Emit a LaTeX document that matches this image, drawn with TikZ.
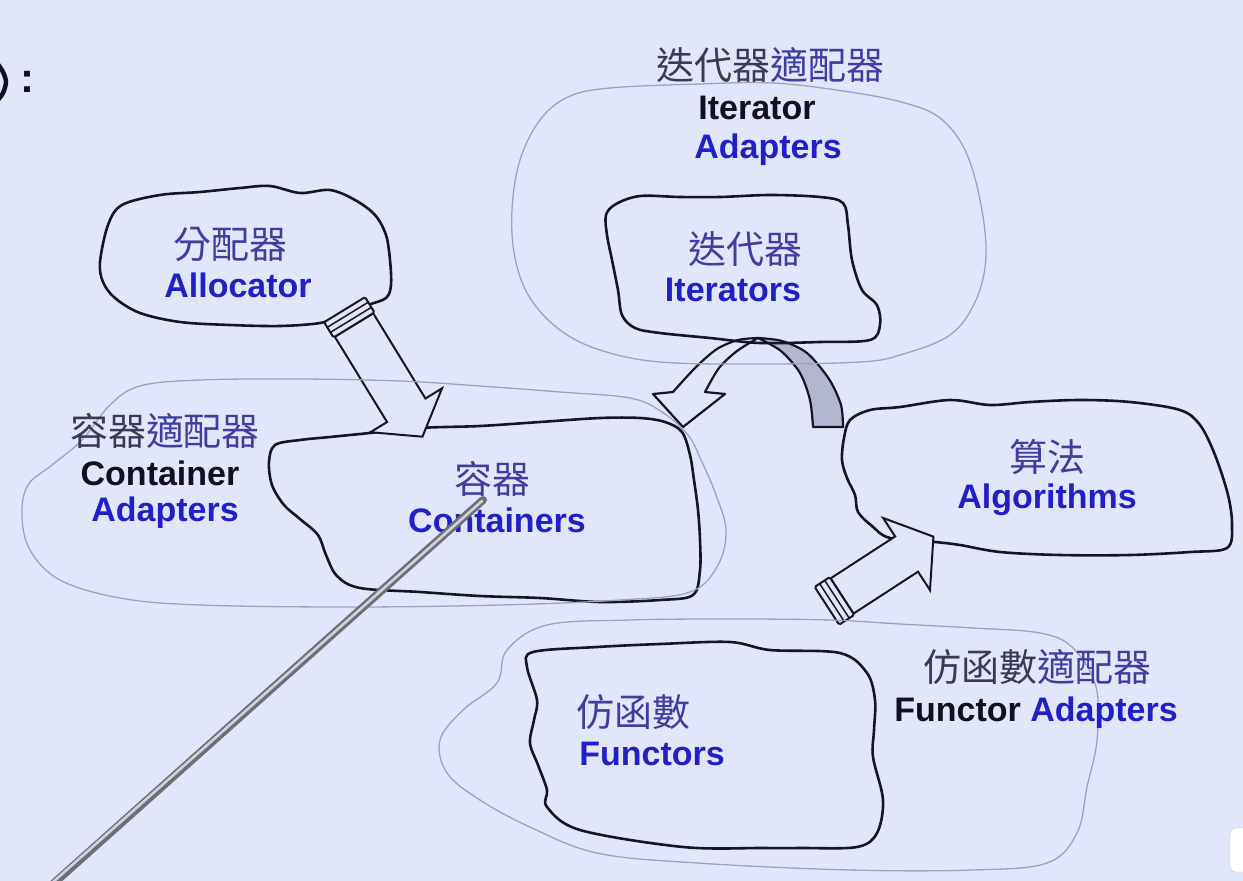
\documentclass[tikz,border=0pt]{standalone}
\usepackage{fontspec}
\setmainfont{Liberation Sans}
\newfontfamily\cjk{Noto Sans CJK TC}
\definecolor{bg}{RGB}{225,230,250}
\definecolor{ink}{RGB}{22,22,34}
\definecolor{haze}{RGB}{155,163,196}
\definecolor{enblue}{RGB}{32,32,200}
\definecolor{enblack}{RGB}{16,16,30}
\definecolor{zhblue}{RGB}{62,62,160}
\definecolor{zhdark}{RGB}{58,58,82}
\definecolor{shadeband}{RGB}{178,182,206}
\definecolor{roddark}{RGB}{110,110,120}
\definecolor{rodlight}{RGB}{210,210,220}
\newcommand\stripedarrow[4]{%
  \draw[blockarrow] (0,-#2/2) -- (#1,-#2/2) -- (#1,-#3) -- ({#1+#4},0) -- (#1,#3) -- (#1,#2/2) -- (0,#2/2) -- cycle;
  \draw[blockarrow,rounded corners=1.5] (-18,-#2/2-1.5) rectangle (0,#2/2+1.5);
  \draw[ink,line width=1.5] (-6,-#2/2-1.5) -- (-6,#2/2+1.5) (-12,-#2/2-1.5) -- (-12,#2/2+1.5);
}
\tikzset{
  blob/.style={draw=ink,line width=2.6,line join=round},
  hazeline/.style={draw=haze,line width=1.3,line join=round},
  blockarrow/.style={draw=ink,fill=bg,line width=2,line join=miter},
  en/.style={font=\bfseries\fontsize{34}{38}\selectfont,text=enblue,inner sep=0pt,anchor=base},
  enk/.style={en,text=enblack},
  zh/.style={font=\cjk\fontsize{38}{42}\selectfont,text=zhdark,inner sep=0pt},
  zhb/.style={zh,text=zhblue},
}
\begin{document}
\begin{tikzpicture}[x=1pt,y=-1pt]
\useasboundingbox (0,0) rectangle (1243,881);
\fill[bg] (0,0) rectangle (1243,881);

% title remnant
\draw[enblack,line width=4.5] plot[smooth] coordinates {(-3,63) (3,72) (6,82) (3,93) (-3,101)};
\node[font=\bfseries\fontsize{42}{44}\selectfont,text=enblack,inner sep=0pt] (colon) at (27,82) {:};

% Containers blob
\draw[blob] plot[smooth cycle,tension=0.55] coordinates {
 (275,445) (300,440) (330,437) (360,434) (420,428) (480,426) (540,422) (600,418) (640,418) (665,422) (682,432)
 (690,455) (694,480) (698,510) (700,540) (700,570) (693,595) (660,600) (600,602) (540,598) (480,596) (420,592)
 (360,588) (337,576) (326,555) (318,535) (300,519) (284,505) (272,485) (269,462)};

% Allocator blob
\draw[blob] plot[smooth cycle,tension=0.55] coordinates {
 (100,262) (108,225) (122,205) (160,195) (200,192) (240,188) (270,186) (300,193) (330,190) (355,200) (375,215)
 (386,235) (390,260) (391,285) (386,298) (368,305) (340,316) (320,323) (280,326) (230,325) (180,322) (140,313)
 (115,298) (103,282)};

% Algorithms blob
\draw[blob] plot[smooth cycle,tension=0.55] coordinates {
 (850,420) (870,410) (900,407) (950,400) (990,405) (1030,402) (1080,400) (1130,402) (1180,410) (1200,425)
 (1215,455) (1228,495) (1232,525) (1227,548) (1190,552) (1130,555) (1060,555) (1000,552) (960,545) (935,542)
 (890,538) (872,526) (858,512) (855,495) (847,478) (842,460) (844,438)};

% Functors blob
\draw[blob] plot[smooth cycle,tension=0.55] coordinates {
 (533,652) (597,647) (660,644) (730,642) (770,650) (840,653) (867,673) (875,700) (874,730) (873,757) (883,800)
 (877,833) (857,847) (800,848) (763,848) (683,847) (580,830) (547,807) (547,790) (538,765) (530,743) (534,720)
 (537,700) (527,667)};

% block arrows
\begin{scope}[shift={(354,325)},rotate=-58.5]
  \stripedarrow{100}{45}{42}{31}
\end{scope}
\begin{scope}[shift={(842,596)},rotate=33]
  \stripedarrow{77}{42}{43}{32}
\end{scope}

% curved arrow: back band (shaded), then front face
\draw[blob,line width=2.2,fill=shadeband] plot[smooth] coordinates {(758,338) (782,341) (807,353) (829,379) (841,405) (843,427)}
  -- (813,427) -- plot[smooth] coordinates {(813,427) (810,400) (800,373) (781,351) (758,338)} -- cycle;
\draw[blob,line width=2.2,fill=bg] plot[smooth] coordinates {(758,338) (738,340) (717,349) (696,367) (673,392)}
  -- (653,394) -- (683,427) -- (725,394) -- plot[smooth] coordinates {(705,392) (719,368) (737,351) (758,338)} -- cycle;

% Iterators blob
\draw[blob] plot[smooth cycle,tension=0.55] coordinates {
 (606,215) (616,204) (640,196) (680,197) (720,197) (770,195) (820,197) (843,203) (848,225) (852,260) (862,290)
 (877,305) (880,325) (870,340) (820,342) (760,343) (710,338) (660,333) (635,328) (622,315) (618,290) (612,260)
 (607,235)};

% adapter outlines (thin, grey)
\draw[hazeline] plot[smooth cycle,tension=0.6] coordinates {
 (610,88) (700,84) (773,83) (850,92) (905,103) (940,118) (965,150) (980,200) (986,255) (976,300) (950,335)
 (900,355) (860,362) (760,364) (660,362) (600,350) (560,330) (530,298) (515,258) (512,210) (520,160) (540,120)
 (568,97)};
\draw[hazeline] plot[smooth cycle,tension=0.6] coordinates {
 (200,380) (300,379) (400,381) (480,386) (560,392) (630,398) (662,412) (688,435) (702,462) (716,495) (726,530)
 (718,565) (690,592) (620,600) (500,605) (350,607) (200,605) (120,598) (60,580) (30,550) (22,515) (28,485)
 (52,465) (82,440) (110,405) (140,386)};
\draw[hazeline] plot[smooth cycle,tension=0.6] coordinates {
 (630,620) (730,619) (830,620) (900,624) (973,628) (1040,633) (1073,648) (1096,687) (1097,740) (1087,787)
 (1077,833) (1047,863) (973,870) (850,870) (697,863) (597,853) (530,827) (480,800) (447,773) (440,740)
 (463,710) (497,683) (507,650) (547,625)};

% labels
\node[zh] (itadzh) at (770,65) {迭代器\textcolor{zhblue}{適配器}};
\node[enk] (itadk) at (757,119) {Iterator};
\node[en] (itadb) at (768,158) {Adapters};
\node[zhb] (alloczh) at (230,244) {分配器};
\node[en] (alloc) at (238,297) {Allocator};
\node[zhb] (iterzh) at (745,249) {迭代器};
\node[en] (iter) at (733,301) {Iterators};
\node[zh] (cadzh) at (165,431) {容器\textcolor{zhblue}{適配器}};
\node[enk] (cadk) at (160,485) {Container};
\node[en] (cadb) at (165,521) {Adapters};
\node[zhb] (contzh) at (492,479) {容器};
\node[en] (cont) at (497,532) {Containers};
\node[zhb] (algozh) at (1047,457) {算法};
\node[en] (algo) at (1047,508) {Algorithms};
\node[zhb] (funczh) at (633,712) {仿函數};
\node[en] (func) at (652,765) {Functors};
\node[zh] (fadzh) at (1037,667) {仿函數\textcolor{zhblue}{適配器}};
\node[enk] (fad) at (1036,721) {Functor \textcolor{enblue}{Adapters}};

% pointer rod
\draw[roddark,line width=8,line cap=round] (44,892) -- (483,500);
\draw[rodlight,line width=2.6,line cap=round] (44,890) -- (482,501);

% corner artefact
\draw[fill=white,draw=haze!60,rounded corners=6] (1230,828) rectangle (1252,872);
\end{tikzpicture}
\end{document}
